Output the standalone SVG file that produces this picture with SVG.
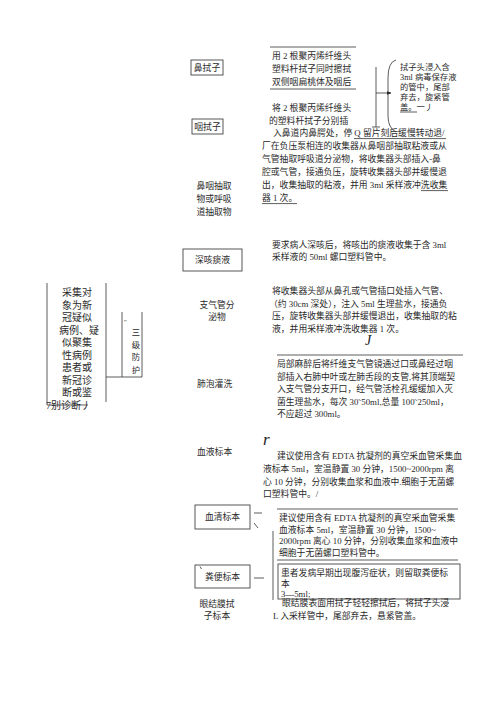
<svg xmlns="http://www.w3.org/2000/svg" width="500" height="707" viewBox="0 0 500 707">
<style>
.t{font-family:"Liberation Serif","Noto Sans CJK SC",serif;font-size:8.8px;fill:#2a2a2a}
.s{font-size:8.3px}
.b{font-size:10px}
.m{text-anchor:middle}
.ln{stroke:#333;stroke-width:0.8;fill:none}
.bx{fill:none;stroke:#444;stroke-width:0.9}
.it{font-family:"Liberation Serif",serif;font-style:italic;fill:#222}
</style>
<defs>
<marker id="ah" viewBox="0 0 10 10" refX="9" refY="5" markerWidth="6" markerHeight="6" orient="auto">
<path d="M0,1 L10,5 L0,9 Z" fill="#222"/>
</marker>
</defs>
<rect width="500" height="707" fill="#fff"/>

<g id="connectors">
<line class="ln" x1="376" y1="67" x2="376" y2="127"/>
<line class="ln" x1="372" y1="127" x2="380" y2="127"/>
<line class="ln" x1="376" y1="93" x2="391" y2="93" marker-end="url(#ah)"/>
<path class="ln" d="M396,60 Q388,62 388,78 L388,116 Q388,128 396,132"/>
<line class="ln" x1="47" y1="283" x2="47" y2="405"/>
<line class="ln" x1="106" y1="283" x2="106" y2="402"/>
<line class="ln" x1="106" y1="377" x2="142" y2="377"/>
<line class="ln" x1="122" y1="312" x2="122" y2="377"/>
<line class="ln" x1="142" y1="312" x2="142" y2="377"/>
<line class="ln" x1="254" y1="513" x2="262" y2="513"/>
<line class="ln" x1="254" y1="523" x2="258" y2="528"/>
<line class="ln" x1="254" y1="578" x2="264" y2="578"/>
<line class="ln" x1="273" y1="531" x2="273" y2="600"/>
</g>

<g id="subject">
<text class="t b m" x="77" y="296">采集对</text>
<text class="t b m" x="77" y="308.5">象为新</text>
<text class="t b m" x="77" y="321">冠疑似</text>
<text class="t b m" x="79" y="333.5">病例、疑</text>
<text class="t b m" x="77" y="346">似聚集</text>
<text class="t b m" x="77" y="358.5">性病例</text>
<text class="t b m" x="77" y="371">患者或</text>
<text class="t b m" x="77" y="383.5">新冠诊</text>
<text class="t b m" x="77" y="396">断或鉴</text>
<text class="t b" x="46" y="408.5">7别诊断丿</text>
<line class="ln" x1="47" y1="405" x2="88" y2="405"/>
</g>

<g id="protect">
<text class="t" x="124" y="324" style="font-size:7px">''</text>
<text class="t s m" x="136" y="335">三</text>
<text class="t s m" x="136" y="348">级</text>
<text class="t s m" x="136" y="360">防</text>
<text class="t s m" x="136" y="373">护</text>
</g>

<g id="nose">
<rect class="bx" x="191" y="60" width="32" height="15"/>
<text class="t m" x="207" y="71">鼻拭子</text>
</g>
<g id="throat">
<rect class="bx" x="192" y="119" width="31" height="15"/>
<text class="t m" x="207.5" y="130">咽拭子</text>
</g>
<g id="swab-text">
<line class="ln" x1="270" y1="47" x2="356" y2="47"/>
<text class="t" x="272" y="58.5">用 2 根聚丙烯纤维头</text>
<text class="t" x="272" y="71.5">塑料杆拭子同时擦拭</text>
<text class="t" x="272" y="84.5">双侧咽扁桃体及咽后</text>
<line class="ln" x1="270" y1="89" x2="356" y2="89"/>
<text class="t" x="272" y="111.3">将 2 根聚丙烯纤维头</text>
<text class="t" x="269" y="124.3">的塑料杆拭子分别插</text>
<text class="t" x="273" y="136.3">入鼻道内鼻腭处，停 Q 留片刻后缓慢转动退/</text>
<line class="ln" x1="354" y1="138.6" x2="446" y2="138.6"/>
</g>
<g id="swab-note">
<text class="t s" x="400" y="70">拭子头浸入含</text>
<text class="t s" x="400" y="80">3ml 病毒保存液</text>
<text class="t s" x="400" y="90">的管中，尾部</text>
<text class="t s" x="400" y="100">弃去，旋紧管</text>
<text class="t s" x="400" y="110">盖。一丿</text>
<line class="ln" x1="400" y1="112" x2="417" y2="112"/>
</g>

<g id="aspirate">
<text class="t m" x="214" y="189.3">鼻咽抽取</text>
<text class="t m" x="214" y="202.3">物或呼吸</text>
<text class="t m" x="214" y="215.3">道抽取物</text>
<text class="t" x="262" y="149.3">厂在负压泵相连的收集器从鼻咽部抽取粘液或从</text>
<text class="t" x="262" y="162.3">气管抽取呼吸道分泌物，将收集器头部插入-鼻</text>
<text class="t" x="262" y="175.3">腔或气管，接通负压，旋转收集器头部并缓慢退</text>
<text class="t" x="262" y="188.3">出，收集抽取的粘液，并用 3ml 采样液冲洗收集</text>
<line class="ln" x1="421" y1="190.6" x2="448" y2="190.6"/>
<text class="t" x="262" y="201.3">器 1 次。</text>
<line class="ln" x1="262" y1="203.6" x2="297" y2="203.6"/>
</g>

<g id="sputum">
<rect class="bx" x="183" y="249" width="59" height="22"/>
<text class="t m" x="212.5" y="263.3">深咳痰液</text>
<text class="t" x="272" y="248.3">要求病人深咳后，将咳出的痰液收集于含 3ml</text>
<text class="t" x="272" y="260.3">采样液的 50ml 螺口塑料管中。</text>
</g>

<g id="bronchial">
<text class="t m" x="217" y="308.3">支气管分</text>
<text class="t m" x="217" y="320.3">泌物</text>
<text class="t" x="272" y="294.3">将收集器头部从鼻孔或气管插口处插入气管、</text>
<text class="t" x="269" y="306.8">（约 30cm 深处），注入 5ml 生理盐水，接通负</text>
<text class="t" x="272" y="319.3">压，旋转收集器头部并缓慢退出，收集抽取的粘</text>
<text class="t" x="272" y="331.8">液，并用采样液冲洗收集器 1 次。</text>
<text class="it" x="365" y="345" font-size="14">J</text>
</g>

<g id="lavage">
<text class="t" x="197" y="387.3">肺泡灌洗</text>
<line class="ln" x1="277" y1="355" x2="463" y2="355"/>
<text class="t" x="277" y="367.3">局部麻醉后将纤维支气管镜通过口或鼻经过咽</text>
<text class="t" x="277" y="379.8">部插入右肺中叶或左肺舌段的支管,将其顶端契</text>
<text class="t" x="277" y="392.3">入支气管分支开口，经气管活栓孔缓缓加入灭</text>
<text class="t" x="277" y="404.8">菌生理盐水，每次 30˜50ml,总量 100˜250ml，</text>
<text class="t" x="277" y="417.3">不应超过 300ml。</text>
</g>

<g id="blood">
<text class="it" x="263" y="445" font-size="17">r</text>
<text class="t" x="197" y="455.3">血液标本</text>
<text class="t" x="277" y="459.3">建议使用含有 EDTA 抗凝剂的真空采血管采集血</text>
<text class="t" x="263" y="472.3">液标本 5ml，室温静置 30 分钟，1500~2000rpm 离</text>
<text class="t" x="263" y="484.8">心 10 分钟，分别收集血浆和血液中.细胞于无菌螺</text>
<text class="t" x="263" y="497.3">口塑料管中。/</text>
</g>

<g id="serum">
<rect class="bx" x="195" y="505" width="55" height="24"/>
<text class="t m" x="222.5" y="520.3">血清标本</text>
<line class="ln" x1="277" y1="509" x2="458" y2="509"/>
<text class="t" x="279" y="521.3">建议使用含有 EDTA 抗凝剂的真空采血管采集</text>
<text class="t" x="279" y="532.8">血液标本 5ml，室温静置 30 分钟，1500~</text>
<text class="t" x="279" y="544.3">2000rpm 离心 10 分钟，分别收集血浆和血液中</text>
<text class="t" x="279" y="555.8">细胞于无菌螺口塑料管中。</text>
<line class="ln" x1="277" y1="560" x2="458" y2="560"/>
</g>

<g id="stool">
<rect class="bx" x="195" y="565" width="55" height="23"/>
<line class="ln" x1="200" y1="566.5" x2="201.5" y2="569"/>
<text class="t m" x="222.5" y="580.3">粪便标本</text>
<rect class="bx" x="278" y="564" width="182" height="35"/>
<text class="t" x="281" y="576.3">患者发病早期出现腹泻症状，则留取粪便标</text>
<text class="t" x="281" y="587.3">本</text>
<text class="t" x="281" y="597.3">3—5ml;</text>
</g>

<g id="conjunctiva">
<text class="t m" x="217" y="607.3">眼结膜拭</text>
<text class="t m" x="217" y="619.3">子标本</text>
<text class="t" x="282" y="606.3">眼结膜表面用拭子轻轻擦拭后，将拭子头浸</text>
<text class="t" x="273" y="619.3">L 入采样管中，尾部弃去，悬紧管盖。</text>
</g>
</svg>
